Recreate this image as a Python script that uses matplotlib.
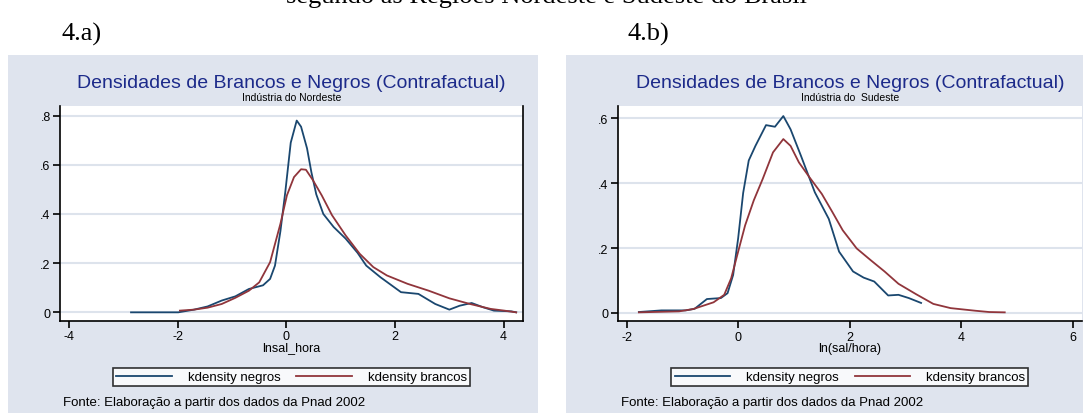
import matplotlib.pyplot as plt
from matplotlib.patches import Rectangle
import numpy as np

plt.rcParams['font.family'] = ['Liberation Sans', 'DejaVu Sans']
plt.rcParams['axes.unicode_minus'] = False

W, H = 1083, 414

# 4.a) Nordeste
ne_neg_x = [-2.86, -1.99, -1.70, -1.45, -1.19, -0.94, -0.69, -0.43, -0.30, -0.21, -0.11, -0.02,
            0.08, 0.19, 0.27, 0.38, 0.46, 0.55, 0.68, 0.87, 1.09, 1.31, 1.47, 1.73, 2.11, 2.43,
            2.74, 3.00, 3.19, 3.41, 3.63, 3.82, 4.14, 4.23]
ne_neg_y = [0.0, 0.0, 0.011, 0.024, 0.048, 0.065, 0.095, 0.11, 0.136, 0.19, 0.33, 0.49,
            0.69, 0.78, 0.755, 0.667, 0.57, 0.48, 0.40, 0.347, 0.30, 0.242, 0.19, 0.143, 0.082, 0.075,
            0.034, 0.011, 0.027, 0.038, 0.020, 0.007, 0.004, 0.0]
ne_bra_x = [-1.96, -1.70, -1.45, -1.19, -0.94, -0.69, -0.50, -0.30, -0.11, 0.01, 0.14, 0.27,
            0.36, 0.49, 0.65, 0.84, 1.09, 1.35, 1.60, 1.85, 2.23, 2.62, 3.00, 3.38, 3.76, 4.01, 4.23]
ne_bra_y = [0.007, 0.011, 0.019, 0.034, 0.059, 0.088, 0.122, 0.204, 0.36, 0.476, 0.55, 0.582,
            0.58, 0.537, 0.476, 0.395, 0.313, 0.238, 0.184, 0.15, 0.116, 0.088, 0.057, 0.034, 0.014, 0.007, 0.0]

# 4.b) Sudeste
se_neg_x = [-1.78, -1.375, -0.94, -0.78, -0.56, -0.31, -0.19, -0.09, 0.0, 0.09, 0.19, 0.31,
            0.50, 0.66, 0.81, 0.94, 1.125, 1.375, 1.625, 1.81, 2.06, 2.25, 2.44, 2.69, 2.875, 3.06, 3.28]
se_neg_y = [0.003, 0.008, 0.008, 0.013, 0.043, 0.046, 0.061, 0.117, 0.23, 0.37, 0.47, 0.515,
            0.579, 0.574, 0.607, 0.566, 0.485, 0.372, 0.29, 0.189, 0.128, 0.109, 0.097, 0.054, 0.056, 0.046, 0.031]
se_bra_x = [-1.78, -1.06, -0.81, -0.44, -0.25, -0.125, 0.0, 0.125, 0.28, 0.44, 0.625, 0.81,
            0.94, 1.09, 1.28, 1.50, 1.69, 1.875, 2.125, 2.375, 2.625, 2.875, 3.19, 3.50, 3.81, 4.25, 4.50, 4.78]
se_bra_y = [0.002, 0.005, 0.012, 0.033, 0.056, 0.107, 0.189, 0.27, 0.347, 0.413, 0.495, 0.536,
            0.515, 0.464, 0.418, 0.367, 0.311, 0.255, 0.199, 0.163, 0.128, 0.09, 0.058, 0.028, 0.015, 0.007, 0.003, 0.002]

xticks_a = [-4, -2, 0, 2, 4]
yticks_a = [0, 0.2, 0.4, 0.6, 0.8]
ylabels_a = ['0', '.2', '.4', '.6', '.8']
xticks_b = [-2, 0, 2, 4, 6]
yticks_b = [0, 0.2, 0.4, 0.6]
ylabels_b = ['0', '.2', '.4', '.6']

navy = '#1a476f'
maroon = '#90353b'
bg = '#dfe4ee'
grid = '#dde3ec'
title_col = '#1c2a8a'

fig = plt.figure(figsize=(W / 100, H / 100), dpi=100)
fig.patch.set_facecolor('white')


def fx(px):
    return px / W


def fy(py):
    return 1 - py / H


# panel backgrounds
for x0, x1 in [(8, 538), (566, 1083)]:
    fig.add_artist(Rectangle((fx(x0), 0), fx(x1) - fx(x0), fy(56), transform=fig.transFigure,
                             facecolor=bg, edgecolor='none', zorder=0))

# header text (cut at the top in the original)
fig.text(fx(546), fy(3), 'segundo as Regiões Nordeste e Sudeste do Brasil', family='Liberation Serif',
         fontsize=19, ha='center', va='baseline')
fig.text(fx(62), fy(34), '4.a)', family='Liberation Serif', fontsize=19, ha='left', va='center')
fig.text(fx(628), fy(34), '4.b)', family='Liberation Serif', fontsize=19, ha='left', va='center')

panels = [
    dict(box=(60.4, 107.3, 522.7, 321.7), xlim=(-4.16, 4.35), ylim=(-0.034, 0.838),
         neg=(ne_neg_x, ne_neg_y), bra=(ne_bra_x, ne_bra_y), xt=xticks_a, yt=yticks_a, yl=ylabels_a,
         sub='Indústria do Nordeste', xlabel='lnsal_hora', rspine=True),
    dict(box=(617.9, 107.3, 1081.7, 322.3), xlim=(-2.156, 6.16), ylim=(-0.0256, 0.637),
         neg=(se_neg_x, se_neg_y), bra=(se_bra_x, se_bra_y), xt=xticks_b, yt=yticks_b, yl=ylabels_b,
         sub='Indústria do  Sudeste', xlabel='ln(sal/hora)', rspine=False),
]

for p in panels:
    l, t, r, b = p['box']
    ax = fig.add_axes([fx(l), fy(b), fx(r) - fx(l), fy(t) - fy(b)])
    ax.set_facecolor('white')
    ax.plot(*p['neg'], color=navy, lw=1.3, label='kdensity negros')
    ax.plot(*p['bra'], color=maroon, lw=1.3, label='kdensity brancos')
    ax.set_xlim(*p['xlim'])
    ax.set_ylim(*p['ylim'])
    ax.set_xticks(p['xt'])
    ax.set_yticks(p['yt'])
    ax.set_yticklabels(p['yl'])
    ax.yaxis.grid(True, color=grid, lw=1.5)
    ax.set_axisbelow(True)
    ax.spines['top'].set_visible(False)
    ax.spines['right'].set_visible(p['rspine'])
    for s in ['left', 'bottom', 'right']:
        ax.spines[s].set_linewidth(1.2)
    ax.tick_params(direction='out', length=5, width=1.2, labelsize=9, pad=2)
    ax.set_xlabel(p['xlabel'], fontsize=9, labelpad=-1)

    cx = fx((l + r) / 2)
    fig.text(cx, fy(83), 'Densidades de Brancos e Negros (Contrafactual)', color=title_col,
             fontsize=14, ha='center', va='center')
    fig.text(cx, fy(98), p['sub'], fontsize=7.5, ha='center', va='center')

    leg = ax.legend(loc='center', bbox_to_anchor=(cx, fy(378)), bbox_transform=fig.transFigure,
                    ncol=2, frameon=True, fancybox=False, fontsize=9.5, handlelength=4.2,
                    columnspacing=1.2, borderpad=0.25, handletextpad=1.2, borderaxespad=0)
    leg.get_frame().set_edgecolor('black')
    leg.get_frame().set_linewidth(1.2)

    fig.text(fx(l + 3), fy(403), 'Fonte: Elaboração a partir dos dados da Pnad 2002',
             fontsize=9.5, ha='left', va='center')

fig.savefig('out.png', dpi=100)
